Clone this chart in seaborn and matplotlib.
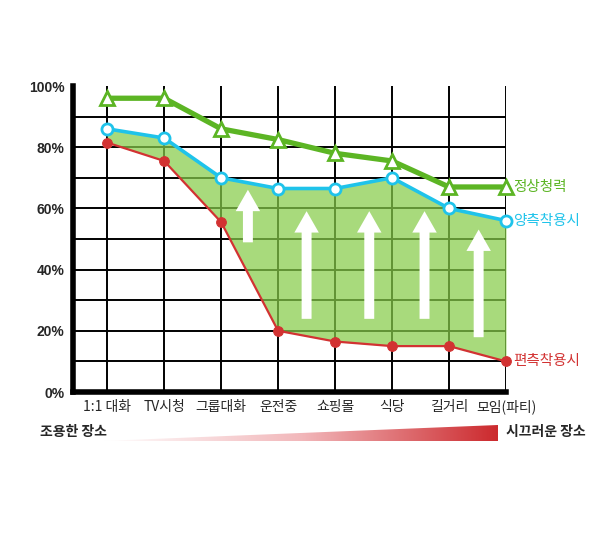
import numpy as np
import pandas as pd
import matplotlib
matplotlib.use("Agg")
import matplotlib.pyplot as plt
import seaborn as sns
from matplotlib.patches import Polygon
from matplotlib.colors import LinearSegmentedColormap

categories = ["1:1 대화", "TV시청", "그룹대화", "운전중", "쇼핑몰", "식당", "길거리", "모임(파티)"]
normal = [96, 96, 86, 82.5, 78, 75.5, 67, 67]
both = [86, 83, 70, 66.5, 66.5, 70, 60, 56]
single = [81.5, 75.5, 55.5, 20, 16.5, 15, 15, 10]
series_names = ["정상청력", "양측착용시", "편측착용시"]
y_ticks = [0, 20, 40, 60, 80, 100]
y_tick_labels = ["0%", "20%", "40%", "60%", "80%", "100%"]
arrow_x = [2.47, 3.5, 4.6, 5.57, 6.52]
arrow_from = [48, 23, 23, 23, 17]
arrow_to = [67, 60, 60, 60, 54]
quiet_label = "조용한 장소"
noisy_label = "시끄러운 장소"

sns.set_style("white")
plt.rcParams['font.family'] = ['Noto Sans CJK KR', 'DejaVu Sans']

GREEN = "#5cb524"
CYAN = "#1fc3ea"
RED = "#d23232"

fig = plt.figure(figsize=(6, 5.48), dpi=100)
ax = fig.add_axes([73/600, 1-392/548, (506-73)/600, (392-86)/548])

x = np.arange(len(categories))
df = pd.DataFrame({"x": np.tile(x, 3),
                   "y": normal + both + single,
                   "series": np.repeat(series_names, len(categories))})

# grid
for yv in range(10, 100, 10):
    ax.axhline(yv, color="black", lw=1.4, zorder=1)
for xv in x:
    ax.axvline(xv, color="black", lw=1.4, zorder=1)

ax.fill_between(x, single, both, color="#87cc49", alpha=0.72, lw=0, zorder=2)

for xa, y0, y1 in zip(arrow_x, arrow_from, arrow_to):
    ax.annotate("", xy=(xa, y1), xytext=(xa, y0),
                arrowprops=dict(arrowstyle="simple,head_length=1.4,head_width=1.6,tail_width=0.65",
                                color="white", lw=0, mutation_scale=11),
                zorder=3)

sns.lineplot(data=df[df.series == series_names[0]], x="x", y="y", ax=ax, color=GREEN,
             lw=3.8, marker="^", markersize=10, markerfacecolor="white",
             markeredgecolor=GREEN, markeredgewidth=2, zorder=5, legend=False, clip_on=False)
sns.lineplot(data=df[df.series == series_names[1]], x="x", y="y", ax=ax, color=CYAN,
             lw=2.6, marker="o", markersize=8, markerfacecolor="white",
             markeredgecolor=CYAN, markeredgewidth=2, zorder=5, legend=False, clip_on=False)
sns.lineplot(data=df[df.series == series_names[2]], x="x", y="y", ax=ax, color=RED,
             lw=1.6, marker="o", markersize=7, markerfacecolor=RED,
             markeredgecolor=RED, zorder=5, legend=False, clip_on=False)

ax.set_xlim(-0.6, 7)
ax.set_ylim(0, 100)
ax.set_xlabel("")
ax.set_ylabel("")
ax.set_xticks(x)
ax.set_xticklabels([])
for xv, lab in zip(x, categories):
    ax.annotate(lab, xy=(xv, 0), xycoords="data", xytext=(0, -13.5), textcoords="offset points",
                ha="center", va="baseline", fontsize=10, family="Noto Sans CJK KR",
                annotation_clip=False)
ax.set_yticks(y_ticks)
ax.set_yticklabels(y_tick_labels, fontsize=10, fontweight="bold",
                   family=['Liberation Sans Narrow', 'Liberation Sans', 'DejaVu Sans'])
ax.tick_params(axis="x", length=0)
ax.tick_params(axis="y", length=0, pad=6)
for s in ["top", "right"]:
    ax.spines[s].set_visible(False)
ax.spines["left"].set_linewidth(4)
ax.spines["bottom"].set_linewidth(4)
ax.spines["left"].set_color("black")
ax.spines["bottom"].set_color("black")

# series labels
ax.text(7.12, normal[-1], series_names[0], color=GREEN, fontsize=10.5, va="center", ha="left", clip_on=False)
ax.text(7.12, both[-1], series_names[1], color=CYAN, fontsize=10.5, va="center", ha="left", clip_on=False)
ax.text(7.12, single[-1], series_names[2], color=RED, fontsize=10.5, va="center", ha="left", clip_on=False)

# gradient wedge
gax = fig.add_axes([0, 0, 1, 1], zorder=-1)
gax.set_xlim(0, 600)
gax.set_ylim(548, 0)
gax.axis("off")
grad = np.linspace(0, 1, 256).reshape(1, -1)
cmap = LinearSegmentedColormap.from_list("wr", ["#ffffff", "#f2b8bb", "#cc2a2e"])
im = gax.imshow(grad, cmap=cmap, extent=[103, 498, 441, 424], aspect="auto")
poly = Polygon([[103, 441], [498, 425], [498, 441]], closed=True, transform=gax.transData)
im.set_clip_path(poly)
gax.text(40, 432, quiet_label, fontsize=10, fontweight="bold", va="center", ha="left")
gax.text(506, 432, noisy_label, fontsize=10, fontweight="bold", va="center", ha="left")

fig.savefig("out.png", dpi=100)
